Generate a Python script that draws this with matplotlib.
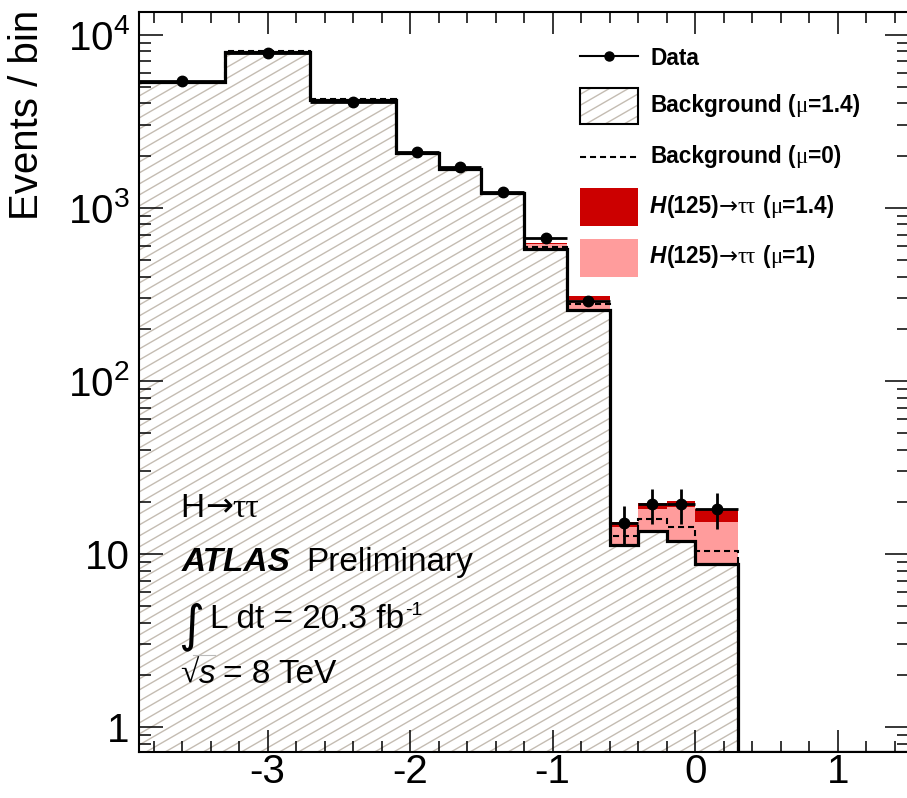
import numpy as np
import matplotlib
matplotlib.use("Agg")
import matplotlib.pyplot as plt
from matplotlib.collections import LineCollection
from matplotlib.path import Path
from matplotlib.patches import Rectangle, PathPatch
from matplotlib.ticker import FixedLocator, FixedFormatter, LogLocator, NullFormatter, MultipleLocator

plt.rcParams["font.family"] = ["Liberation Sans", "DejaVu Sans"]
plt.rcParams["mathtext.fontset"] = "custom"
plt.rcParams["mathtext.rm"] = "Liberation Sans"
plt.rcParams["mathtext.it"] = "Liberation Sans:italic"
plt.rcParams["mathtext.bf"] = "Liberation Sans:bold"
plt.rcParams["axes.unicode_minus"] = False

# ---------------- data ----------------
bin_edges = [-3.9, -3.3, -2.7, -2.1, -1.8, -1.5, -1.2, -0.9, -0.6, -0.4, -0.2, 0.0, 0.3, 1.5]
background_mu14 = [5350, 7900, 4200, 2080, 1663, 1215, 574, 258, 11.2, 13.6, 11.9, 8.7, 0]
background_mu0 = [5350, 8000, 4270, 2080, 1663, 1215, 591, 277, 12.7, 15.9, 14.3, 10.4, 0]
signal_mu14 = [10, 10, 15, 22, 20, 20, 50, 51, 4.0, 6.0, 8.3, 9.4, 0]
signal_mu1 = [7, 7, 11, 16, 14, 14, 39, 34, 3.1, 4.6, 6.7, 6.5, 0]
data_counts = [5400, 7840, 4065, 2094, 1715, 1230, 667, 289, 15.0, 19.3, 19.3, 18.1]

y_ticks = [1, 10, 100, 1000, 10000]
y_tick_labels = ["1", "10", r"$10^{2}$", r"$10^{3}$", r"$10^{4}$"]
x_ticks = [-3, -2, -1, 0, 1]
x_tick_labels = ["-3", "-2", "-1", "0", "1"]

RED = "#cc0000"
PINK = "#ff9c9c"
HATCH = "#c4bcb2"

W_PX, H_PX = 907, 798
YMIN, YMAX = 0.722, 13450
XMIN, XMAX = -3.9, 1.5

fig = plt.figure(figsize=(W_PX / 100, H_PX / 100), dpi=100)
ax_l, ax_r, ax_t, ax_b = 139.3, 909.0, 12.3, 751.5
ax = fig.add_axes([ax_l / W_PX, 1 - ax_b / H_PX, (ax_r - ax_l) / W_PX, (ax_b - ax_t) / H_PX])
ax.set_yscale("log")
ax.set_xlim(XMIN, XMAX)
ax.set_ylim(YMIN, YMAX)

edges = np.array(bin_edges)
bkg = np.array(background_mu14, dtype=float)
bkg0 = np.array(background_mu0, dtype=float)
s14 = np.array(signal_mu14, dtype=float)
s1 = np.array(signal_mu1, dtype=float)
bkg_draw = np.maximum(bkg, YMIN)
bkg0_draw = np.maximum(bkg0, YMIN * 0.5)

AX_W = ax_r - ax_l
AX_H = ax_b - ax_t
HATCH_SLOPE = np.tan(np.radians(30))
HATCH_STEP = 11.0


def hatch_segments():
    segs = []
    c = -AX_W * HATCH_SLOPE
    while c < AX_H:
        segs.append([(0, c / AX_H), (1, (c + AX_W * HATCH_SLOPE) / AX_H)])
        c += HATCH_STEP
    return segs


def add_hatch(clip_patch, zorder):
    """Diagonal hatch lines laid out in axes space, clipped to a patch."""
    lc = LineCollection(hatch_segments(), colors=HATCH, linewidths=1.0,
                        transform=ax.transAxes, zorder=zorder)
    ax.add_collection(lc, autolim=False)
    lc.set_clip_path(clip_patch)
    return lc


# background region (step polygon, invisible, used only for clipping the hatch)
verts = [(edges[0], YMIN * 0.5)]
for i in range(len(bkg_draw)):
    verts.append((edges[i], bkg_draw[i]))
    verts.append((edges[i + 1], bkg_draw[i]))
verts.append((edges[-1], YMIN * 0.5))
verts.append((edges[0], YMIN * 0.5))
bkg_patch = PathPatch(Path(verts, closed=True), facecolor="none", edgecolor="none",
                      transform=ax.transData)
ax.add_patch(bkg_patch)
add_hatch(bkg_patch, 1)

# signal stacked on top of the background
ax.stairs(bkg + s14, edges, baseline=bkg_draw, fill=True, color=RED, zorder=2, linewidth=0)
ax.stairs(bkg + s1, edges, baseline=bkg_draw, fill=True, color=PINK, zorder=3, linewidth=0)

# background-only fit, dashed
ax.stairs(bkg0_draw, edges, color="black", linewidth=1.5, linestyle=(0, (2.9, 1.9)), zorder=4,
          baseline=None)

# background outline
ax.stairs(bkg_draw, edges, color="black", linewidth=2.3, zorder=5, baseline=None)

# data points
centers = 0.5 * (edges[:-2] + edges[1:-1])
half_w = 0.5 * (edges[1:-1] - edges[:-2])
dat = np.array(data_counts)
ax.errorbar(centers, dat, yerr=np.sqrt(dat), xerr=half_w, fmt="o", color="black",
            markersize=7.5, elinewidth=2.0, capsize=0, zorder=6)

# axes styling
for sp in ax.spines.values():
    sp.set_linewidth(1.5)
    sp.set_zorder(10)
ax.yaxis.set_major_locator(FixedLocator(y_ticks))
ax.yaxis.set_major_formatter(FixedFormatter(y_tick_labels))
ax.yaxis.set_minor_locator(LogLocator(base=10, subs=np.arange(2, 10), numticks=20))
ax.yaxis.set_minor_formatter(NullFormatter())
ax.xaxis.set_major_locator(FixedLocator(x_ticks))
ax.xaxis.set_major_formatter(FixedFormatter(x_tick_labels))
ax.xaxis.set_minor_locator(MultipleLocator(0.2))
ax.tick_params(axis="both", which="both", direction="in", top=True, right=True, width=1.1,
               labelsize=29)
ax.tick_params(axis="y", which="major", length=17.3, pad=7)
ax.tick_params(axis="y", which="minor", length=8.6)
ax.tick_params(axis="x", which="major", length=15.8, pad=1)
ax.tick_params(axis="x", which="minor", length=7.9)

fig.text(27 / W_PX, 1 - 10 / H_PX, "Events / bin", rotation=90, ha="center", va="top",
         fontsize=29)

renderer = fig.canvas.get_renderer()


def put_pieces(x_px, base_px, pieces):
    x = x_px
    for p in pieces:
        txt, size = p[0], p[1]
        opts = dict(p[2]) if len(p) > 2 else {}
        gap = opts.pop("gap", 0.0)
        dy = opts.pop("dy", 0.0)
        x += gap
        t = fig.text(x / W_PX, 1 - (base_px - dy) / H_PX, txt, fontsize=size, ha="left",
                     va="baseline", **opts)
        bb = t.get_window_extent(renderer)
        x = bb.x1
    return x


SERIF = {"family": ["Liberation Serif", "DejaVu Serif"]}
ARROW = {"family": ["DejaVu Sans"]}
B = {"weight": "bold"}
LS = 16.3  # legend text size


def px2ax(px, py):
    return ((px - ax_l) / AX_W, (ax_b - py) / AX_H)


# legend symbols
sx0, sx1 = 580, 638
x0, y0 = px2ax(sx0, 56)
x1, _ = px2ax(sx1, 56)
ax.plot([x0, x1], [y0, y0], color="black", lw=1.5, transform=ax.transAxes, clip_on=False, zorder=8)
ax.plot([(x0 + x1) / 2], [y0], "o", color="black", ms=6.5, transform=ax.transAxes, clip_on=False,
        zorder=8)


def legend_box(py0, py1, **kw):
    a0 = px2ax(sx0, py1)
    a1 = px2ax(sx1, py0)
    r = Rectangle(a0, a1[0] - a0[0], a1[1] - a0[1], transform=ax.transAxes, **kw)
    ax.add_patch(r)
    return r


clip_box = legend_box(88, 124, facecolor="white", edgecolor="none", zorder=8)
add_hatch(clip_box, 8.5)
legend_box(88, 124, facecolor="none", edgecolor="black", linewidth=1.5, zorder=9)

_, yd = px2ax(0, 156.7)
ax.plot([x0, x1], [yd, yd], color="black", lw=1.5, ls=(0, (2.9, 1.9)), transform=ax.transAxes,
        clip_on=False, zorder=8)
legend_box(188, 226, facecolor=RED, edgecolor="none", zorder=8)
legend_box(239, 277, facecolor=PINK, edgecolor="none", zorder=8)

put_pieces(650, 65, [("Data", LS, B)])
put_pieces(650, 112, [("Background", LS, B), ("(", LS, dict(B, gap=6.3)), ("\u03bc", LS, SERIF),
                      ("=1.4)", LS, B)])
put_pieces(650, 163, [("Background", LS, B), ("(", LS, dict(B, gap=6.3)), ("\u03bc", LS, SERIF),
                      ("=0)", LS, B)])
for base, mu in ((213, "=1.4)"), (263, "=1)")):
    put_pieces(650, base, [("H", LS, {"weight": "bold", "style": "italic"}), ("(125)", LS, B),
                           ("\u2192", LS, ARROW), ("\u03c4\u03c4", LS, SERIF),
                           ("(", LS, dict(B, gap=6.3)), ("\u03bc", LS, SERIF), (mu, LS, B)])

# experiment labels
AS = 24
put_pieces(180.7, 516.7, [("H", AS), ("\u2192", AS, ARROW), ("\u03c4\u03c4", AS, SERIF)])
put_pieces(181.7, 570.7, [("ATLAS", AS, {"weight": "bold", "style": "italic"}),
                          ("Preliminary", AS, {"gap": 16})])
fig.text(178 / W_PX, 1 - 640 / H_PX, "\u222b", fontsize=36, ha="left", va="baseline",
         family=["DejaVu Sans"])
put_pieces(210, 628, [("L dt = 20.3 fb", AS), ("-1", 14, {"dy": 13, "gap": 1})])
put_pieces(180, 683, [("\u221a", AS, SERIF), ("s", AS, {"style": "italic", "gap": 1}),
                      ("= 8 TeV", AS, {"gap": 7})])
fig.add_artist(plt.Line2D([193 / W_PX, 215 / W_PX], [1 - 655 / H_PX, 1 - 655 / H_PX],
                          color="#bbbbbb", lw=0.8))

fig.savefig("out.png", dpi=100)
